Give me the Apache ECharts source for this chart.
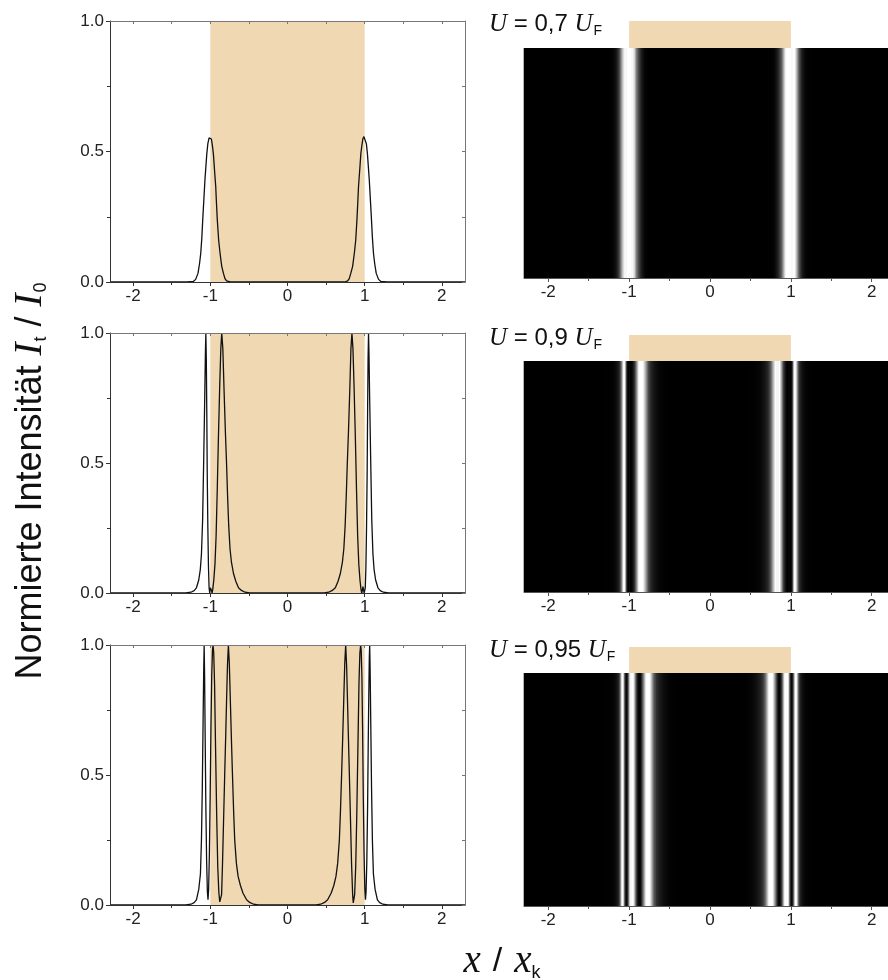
<!DOCTYPE html>
<html><head><meta charset="utf-8">
<script src="https://cdn.jsdelivr.net/npm/echarts@6/dist/echarts.min.js"></script>
<style>html,body{margin:0;padding:0;background:#fff}#c{width:888px;height:980px}</style>
</head><body><div id="c"></div>
<script>
// ---- data ----
const xRange = [-2.3, 2.3];
const xTickValues = [-2, -1, 0, 1, 2];
const xMinorValues = [-1.5, -0.5, 0.5, 1.5];
const xAllTickValues = [-2, -1.5, -1, -0.5, 0, 0.5, 1, 1.5, 2];
const yRange = [0, 1];
const coreRange = [-1, 1];
const voltageLabels = ['0,7', '0,9', '0,95'];

// U = 0,7 U_F  : [x / x_k, I_t / I_0]
const row1Points = [
  [-2.3,0],[-1.3,0],[-1.22,0.002],[-1.19,0.01],[-1.16,0.033],[-1.14,0.07],[-1.124,0.11],[-1.11,0.17],
  [-1.098,0.24],[-1.085,0.31],[-1.07,0.39],[-1.058,0.44],[-1.046,0.49],[-1.032,0.53],[-1.016,0.552],
  [-1.0,0.557],[-0.986,0.548],[-0.972,0.52],[-0.96,0.49],[-0.946,0.43],[-0.93,0.365],[-0.92,0.30],
  [-0.91,0.24],[-0.892,0.16],[-0.874,0.11],[-0.852,0.06],[-0.83,0.033],[-0.81,0.013],[-0.79,0.004],[-0.74,0],
  [0.74,0],[0.78,0.004],[0.80,0.013],[0.82,0.033],[0.844,0.06],[0.866,0.11],[0.884,0.16],[0.90,0.24],
  [0.91,0.30],[0.92,0.365],[0.936,0.43],[0.95,0.49],[0.962,0.52],[0.976,0.548],[0.99,0.557],[1.006,0.552],
  [1.022,0.53],[1.036,0.49],[1.048,0.44],[1.06,0.39],[1.075,0.31],[1.088,0.24],[1.10,0.17],[1.114,0.11],
  [1.13,0.07],[1.15,0.033],[1.18,0.01],[1.21,0.002],[1.29,0],[2.3,0]
];
// U = 0,9 U_F
const row2Points = [
  [-2.3,0],[-1.32,0],[-1.25,0.003],[-1.21,0.009],[-1.18,0.02],[-1.15,0.05],[-1.13,0.09],[-1.115,0.15],
  [-1.10,0.28],[-1.086,0.51],[-1.072,0.76],[-1.064,0.92],[-1.058,1.0],[-1.052,0.9],[-1.046,0.7],[-1.04,0.46],
  [-1.032,0.25],[-1.024,0.1],[-1.016,0.02],[-1.008,0],[-1.0,0.02],[-0.993,0.025],[-0.985,0.01],[-0.977,0],
  [-0.968,0.015],[-0.955,0.05],[-0.94,0.11],[-0.925,0.22],[-0.91,0.4],[-0.895,0.6],[-0.878,0.8],[-0.864,0.94],
  [-0.852,1.0],[-0.838,0.94],[-0.822,0.78],[-0.805,0.62],[-0.79,0.5],[-0.776,0.37],[-0.762,0.26],[-0.745,0.17],
  [-0.727,0.12],[-0.70,0.075],[-0.67,0.045],[-0.635,0.02],[-0.597,0.01],[-0.55,0.003],[-0.49,0],
  [0.475,0],[0.535,0.003],[0.58,0.01],[0.62,0.02],[0.655,0.045],[0.685,0.075],[0.712,0.12],[0.73,0.17],
  [0.747,0.26],[0.761,0.37],[0.775,0.5],[0.79,0.62],[0.807,0.78],[0.822,0.94],[0.835,1.0],[0.848,0.94],
  [0.862,0.8],[0.879,0.6],[0.894,0.4],[0.909,0.22],[0.924,0.11],[0.939,0.05],[0.952,0.015],[0.962,0],
  [0.97,0.01],[0.978,0.025],[0.986,0.02],[0.993,0],[1.0,0],[1.008,0.02],[1.016,0.1],[1.024,0.25],
  [1.032,0.46],[1.038,0.7],[1.044,0.9],[1.05,1.0],[1.056,0.92],[1.064,0.76],[1.078,0.51],[1.092,0.28],
  [1.107,0.15],[1.122,0.09],[1.142,0.05],[1.172,0.02],[1.202,0.009],[1.242,0.003],[1.31,0],[2.3,0]
];
// U = 0,95 U_F
const row3Points = [
  [-2.3,0],[-1.32,0],[-1.25,0.003],[-1.21,0.009],[-1.18,0.02],[-1.15,0.06],[-1.128,0.12],[-1.115,0.25],
  [-1.104,0.45],[-1.094,0.7],[-1.086,0.9],[-1.08,1.0],[-1.074,0.88],[-1.066,0.62],[-1.058,0.38],[-1.048,0.17],
  [-1.038,0.05],[-1.03,0.02],[-1.022,0.06],[-1.012,0.2],[-1.002,0.42],[-0.992,0.68],[-0.982,0.88],[-0.972,0.98],
  [-0.965,1.0],[-0.956,0.97],[-0.945,0.85],[-0.932,0.6],[-0.918,0.35],[-0.904,0.15],[-0.89,0.05],[-0.878,0.012],
  [-0.866,0.005],[-0.854,0.04],[-0.842,0.16],[-0.828,0.33],[-0.813,0.51],[-0.8,0.66],[-0.79,0.78],[-0.778,0.92],
  [-0.766,1.0],[-0.754,0.93],[-0.74,0.78],[-0.727,0.64],[-0.714,0.51],[-0.698,0.36],[-0.684,0.25],[-0.662,0.16],
  [-0.64,0.11],[-0.61,0.075],[-0.576,0.045],[-0.53,0.02],[-0.49,0.01],[-0.44,0.003],[-0.38,0],
  [0.37,0],[0.43,0.003],[0.48,0.01],[0.52,0.02],[0.565,0.045],[0.6,0.075],[0.628,0.11],[0.65,0.16],
  [0.672,0.25],[0.686,0.36],[0.702,0.51],[0.715,0.64],[0.728,0.78],[0.742,0.93],[0.754,1.0],[0.766,0.92],
  [0.778,0.78],[0.788,0.66],[0.801,0.51],[0.816,0.33],[0.83,0.16],[0.844,0.04],[0.852,0.008],[0.86,0.005],
  [0.87,0.04],[0.884,0.15],[0.898,0.35],[0.912,0.6],[0.926,0.85],[0.938,0.97],[0.948,1.0],[0.955,0.98],
  [0.964,0.88],[0.973,0.68],[0.982,0.42],[0.992,0.2],[1.002,0.06],[1.01,0.02],[1.018,0.05],[1.028,0.17],
  [1.038,0.38],[1.046,0.62],[1.054,0.82],[1.06,0.95],[1.065,1.0],[1.071,0.9],[1.079,0.7],[1.089,0.45],
  [1.1,0.25],[1.113,0.12],[1.135,0.06],[1.165,0.02],[1.195,0.009],[1.235,0.003],[1.3,0],[2.3,0]
];

// ---- layout / style ----
const SANS = 'Liberation Sans, Arial, Helvetica, sans-serif';
const SERIF = 'Liberation Serif, Times New Roman, serif';
const TAN = '#efd8b2';
const DARK = '#222';
const rows = [
  {pts: row1Points, lt: 21,  lh: 261, it: 48,  ih: 230, bt: 21,  bh: 27},
  {pts: row2Points, lt: 333, lh: 260, it: 361, ih: 231, bt: 335, bh: 26},
  {pts: row3Points, lt: 645, lh: 260, it: 673, ih: 233, bt: 647, bh: 26}
];
const L_LEFT = 110, L_W = 355, R_LEFT = 524, R_W = 372;

const grid = [], xAxis = [], yAxis = [], series = [], graphic = [];
const lbl = {fontSize: 17, color: DARK, fontFamily: SANS, margin: 6};

function gray(v) {
  const g = Math.round(255 * Math.min(1, Math.max(0, v) * 1.25));
  return 'rgb(' + g + ',' + g + ',' + g + ')';
}

rows.forEach((r, k) => {
  // --- left line plot grid ---
  const gL = grid.length;
  grid.push({left: L_LEFT, top: r.lt, width: L_W, height: r.lh, outerBoundsMode: 'none', containLabel: false});
  const xb = xAxis.length;
  xAxis.push({type: 'value', gridIndex: gL, min: xRange[0], max: xRange[1], position: 'bottom', z: 10,
    axisLine: {onZero: false, lineStyle: {color: '#333', width: 1}},
    axisTick: {inside: false, length: 4, customValues: xTickValues, lineStyle: {color: '#333'}},
    axisLabel: Object.assign({customValues: xTickValues}, lbl), splitLine: {show: false}});
  xAxis.push({type: 'value', gridIndex: gL, min: xRange[0], max: xRange[1], position: 'bottom', z: 10,
    axisLine: {show: false, onZero: false},
    axisTick: {inside: false, length: 3, customValues: xMinorValues, lineStyle: {color: '#333'}},
    axisLabel: {show: false}, splitLine: {show: false}});
  xAxis.push({type: 'value', gridIndex: gL, min: xRange[0], max: xRange[1], position: 'top', z: 10,
    axisLine: {onZero: false, lineStyle: {color: '#777', width: 1}},
    axisTick: {inside: true, length: 3, customValues: xAllTickValues, lineStyle: {color: '#777'}},
    axisLabel: {show: false}, splitLine: {show: false}});
  const yl = yAxis.length;
  yAxis.push({type: 'value', gridIndex: gL, min: yRange[0], max: yRange[1], interval: 0.5, position: 'left', z: 10,
    axisLine: {show: true, onZero: false, lineStyle: {color: '#333', width: 1}},
    axisTick: {show: true, inside: false, length: 4, lineStyle: {color: '#333'}},
    minorTick: {show: true, splitNumber: 2, length: 3, lineStyle: {color: '#333'}},
    axisLabel: Object.assign({formatter: v => v.toFixed(1)}, lbl),
    splitLine: {show: false}, minorSplitLine: {show: false}});
  yAxis.push({type: 'value', gridIndex: gL, min: yRange[0], max: yRange[1], interval: 0.5, position: 'right', z: 10,
    axisLine: {show: true, onZero: false, lineStyle: {color: '#777', width: 1}},
    axisTick: {show: true, inside: true, length: 3, lineStyle: {color: '#777'}},
    minorTick: {show: true, splitNumber: 2, length: 3, lineStyle: {color: '#777'}},
    axisLabel: {show: false}, splitLine: {show: false}});

  series.push({type: 'custom', xAxisIndex: xb, yAxisIndex: yl, z: 1, silent: true,
    data: [coreRange], encode: {x: [0, 1]},
    renderItem: (p, api) => {
      const a = api.coord([api.value(0), yRange[1]]), b = api.coord([api.value(1), yRange[0]]);
      return {type: 'rect', shape: {x: a[0], y: a[1], width: b[0] - a[0], height: b[1] - a[1]}, style: {fill: TAN}};
    }});
  series.push({type: 'line', xAxisIndex: xb, yAxisIndex: yl, z: 3, data: r.pts, showSymbol: false,
    smooth: false, lineStyle: {color: '#111', width: 1.3}, silent: true});

  // --- right intensity image grid ---
  const gI = grid.length;
  grid.push({left: R_LEFT, top: r.it, width: R_W, height: r.ih, outerBoundsMode: 'none', containLabel: false,
    show: true, backgroundColor: '#000', borderWidth: 0});
  const xi = xAxis.length;
  xAxis.push({type: 'value', gridIndex: gI, min: xRange[0], max: xRange[1], position: 'bottom', z: 10,
    axisLine: {onZero: false, lineStyle: {color: '#555', width: 1}},
    axisTick: {inside: false, length: 4, customValues: xTickValues, lineStyle: {color: '#555'}},
    axisLabel: Object.assign({customValues: xTickValues}, lbl), splitLine: {show: false}});
  xAxis.push({type: 'value', gridIndex: gI, min: xRange[0], max: xRange[1], position: 'bottom', z: 10,
    axisLine: {show: false, onZero: false},
    axisTick: {inside: false, length: 3, customValues: xMinorValues, lineStyle: {color: '#555'}},
    axisLabel: {show: false}, splitLine: {show: false}});
  const yi = yAxis.length;
  yAxis.push({type: 'value', gridIndex: gI, min: yRange[0], max: yRange[1], show: false});
  const peak = Math.max.apply(null, r.pts.map(p => p[1]));
  const segs = r.pts.slice(0, -1).map((p, i) => [p[0], r.pts[i + 1][0], p[1] / peak, r.pts[i + 1][1] / peak]);
  series.push({type: 'custom', xAxisIndex: xi, yAxisIndex: yi, silent: true, data: segs,
    encode: {x: [0, 1], y: [2, 3]},
    renderItem: (p, api) => {
      const a = api.coord([api.value(0), yRange[1]]), b = api.coord([api.value(1), yRange[0]]);
      return {type: 'rect', shape: {x: a[0] - 0.3, y: a[1], width: b[0] - a[0] + 0.6, height: b[1] - a[1]},
        style: {fill: new echarts.graphic.LinearGradient(0, 0, 1, 0,
          [{offset: 0, color: gray(api.value(2))}, {offset: 1, color: gray(api.value(3))}])}};
    }});

  // --- tan bar above image ---
  const gB = grid.length;
  grid.push({left: R_LEFT, top: r.bt, width: R_W, height: r.bh, outerBoundsMode: 'none', containLabel: false});
  const xbb = xAxis.length;
  xAxis.push({type: 'value', gridIndex: gB, min: xRange[0], max: xRange[1], show: false});
  const ybb = yAxis.length;
  yAxis.push({type: 'value', gridIndex: gB, min: yRange[0], max: yRange[1], show: false});
  series.push({type: 'custom', xAxisIndex: xbb, yAxisIndex: ybb, silent: true, data: [coreRange], encode: {x: [0, 1]},
    renderItem: (p, api) => {
      const a = api.coord([api.value(0), yRange[1]]), b = api.coord([api.value(1), yRange[0]]);
      return {type: 'rect', shape: {x: a[0], y: a[1], width: b[0] - a[0], height: b[1] - a[1]}, style: {fill: TAN}};
    }});

  graphic.push({type: 'text', x: 489, y: r.bt + 3, silent: true,
    style: {text: '{i|U}{a| = ' + voltageLabels[k] + ' }{i|U}{s|F}', verticalAlign: 'middle', align: 'left', fill: '#111',
      rich: {
        i: {fontFamily: SERIF, fontStyle: 'italic', fontSize: 25, fill: '#111'},
        a: {fontFamily: SANS, fontSize: 24, fill: '#111'},
        s: {fontFamily: SANS, fontSize: 14, fill: '#111', padding: [14, 0, 0, 1]}
      }}});
});

graphic.push({type: 'text', x: 31, y: 481, rotation: Math.PI / 2, silent: true,
  style: {text: '{a|Normierte Intensität }{i|I}{s|t}{a| / }{i|I}{s|0}', align: 'center', verticalAlign: 'middle', fill: '#111',
    rich: {
      a: {fontFamily: SANS, fontSize: 36, fill: '#111'},
      i: {fontFamily: SERIF, fontStyle: 'italic', fontSize: 39, fill: '#111'},
      s: {fontFamily: SANS, fontSize: 18, fill: '#111', padding: [21, 0, 0, 1]}
    }}});
graphic.push({type: 'text', x: 502, y: 962, silent: true,
  style: {text: '{i|x}{a|/}{i|x}{s|k}', align: 'center', verticalAlign: 'middle', fill: '#111',
    rich: {
      a: {fontFamily: SANS, fontSize: 34, fill: '#111', padding: [0, 12, 0, 12]},
      i: {fontFamily: SERIF, fontStyle: 'italic', fontSize: 39, fill: '#111'},
      s: {fontFamily: SANS, fontSize: 18, fill: '#111', padding: [22, 0, 0, 0]}
    }}});

const chart = echarts.init(document.getElementById('c'), null, {renderer: 'canvas', width: 888, height: 980});
chart.setOption({animation: false, backgroundColor: '#fff', grid, xAxis, yAxis, series, graphic});
</script></body></html>
